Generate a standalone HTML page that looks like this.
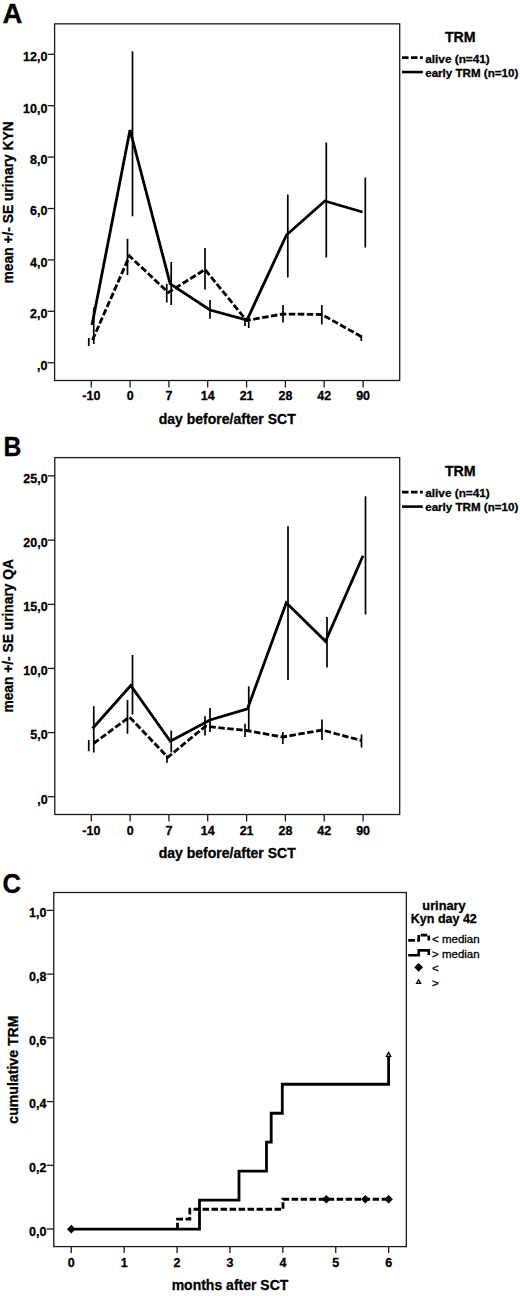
<!DOCTYPE html>
<html><head><meta charset="utf-8"><title>Figure</title>
<style>
html,body{margin:0;padding:0;background:#fff;}
body{width:520px;height:1296px;overflow:hidden;font-family:"Liberation Sans",sans-serif;}
svg{display:block;}
svg text{font-family:"Liberation Sans",sans-serif;fill:#000;stroke:#000;stroke-width:0.3px;}
</style></head><body>
<svg width="520" height="1296" viewBox="0 0 520 1296">
<rect x="0" y="0" width="520" height="1296" fill="#fff"/>
<text transform="translate(2.5,23.2) scale(1.0,1)" font-size="27.5" font-weight="bold">A</text>
<rect x="54.6" y="23.85" width="345.09999999999997" height="356.65" fill="none" stroke="#1a1a1a" stroke-width="1.3"/>
<line x1="47.6" y1="54.3" x2="54.6" y2="54.3" stroke="#1a1a1a" stroke-width="1.3" />
<text transform="translate(47.4,61.099999999999994) scale(0.96,1)" font-size="13.0" font-weight="bold" text-anchor="end" >12,0</text>
<line x1="47.6" y1="105.7" x2="54.6" y2="105.7" stroke="#1a1a1a" stroke-width="1.3" />
<text transform="translate(47.4,112.5) scale(0.96,1)" font-size="13.0" font-weight="bold" text-anchor="end" >10,0</text>
<line x1="47.6" y1="157.1" x2="54.6" y2="157.1" stroke="#1a1a1a" stroke-width="1.3" />
<text transform="translate(47.4,163.9) scale(0.96,1)" font-size="13.0" font-weight="bold" text-anchor="end" >8,0</text>
<line x1="47.6" y1="208.5" x2="54.6" y2="208.5" stroke="#1a1a1a" stroke-width="1.3" />
<text transform="translate(47.4,215.3) scale(0.96,1)" font-size="13.0" font-weight="bold" text-anchor="end" >6,0</text>
<line x1="47.6" y1="259.9" x2="54.6" y2="259.9" stroke="#1a1a1a" stroke-width="1.3" />
<text transform="translate(47.4,266.7) scale(0.96,1)" font-size="13.0" font-weight="bold" text-anchor="end" >4,0</text>
<line x1="47.6" y1="311.3" x2="54.6" y2="311.3" stroke="#1a1a1a" stroke-width="1.3" />
<text transform="translate(47.4,318.1) scale(0.96,1)" font-size="13.0" font-weight="bold" text-anchor="end" >2,0</text>
<line x1="47.6" y1="362.7" x2="54.6" y2="362.7" stroke="#1a1a1a" stroke-width="1.3" />
<text transform="translate(47.4,369.5) scale(0.96,1)" font-size="13.0" font-weight="bold" text-anchor="end" >,0</text>
<line x1="91.3" y1="380.5" x2="91.3" y2="387.5" stroke="#1a1a1a" stroke-width="1.3" />
<text transform="translate(91.3,400.2) scale(0.96,1)" font-size="13.0" font-weight="bold" text-anchor="middle" >-10</text>
<line x1="130.1" y1="380.5" x2="130.1" y2="387.5" stroke="#1a1a1a" stroke-width="1.3" />
<text transform="translate(130.1,400.2) scale(0.96,1)" font-size="13.0" font-weight="bold" text-anchor="middle" >0</text>
<line x1="168.9" y1="380.5" x2="168.9" y2="387.5" stroke="#1a1a1a" stroke-width="1.3" />
<text transform="translate(168.9,400.2) scale(0.96,1)" font-size="13.0" font-weight="bold" text-anchor="middle" >7</text>
<line x1="207.7" y1="380.5" x2="207.7" y2="387.5" stroke="#1a1a1a" stroke-width="1.3" />
<text transform="translate(207.7,400.2) scale(0.96,1)" font-size="13.0" font-weight="bold" text-anchor="middle" >14</text>
<line x1="246.6" y1="380.5" x2="246.6" y2="387.5" stroke="#1a1a1a" stroke-width="1.3" />
<text transform="translate(246.6,400.2) scale(0.96,1)" font-size="13.0" font-weight="bold" text-anchor="middle" >21</text>
<line x1="285.4" y1="380.5" x2="285.4" y2="387.5" stroke="#1a1a1a" stroke-width="1.3" />
<text transform="translate(285.4,400.2) scale(0.96,1)" font-size="13.0" font-weight="bold" text-anchor="middle" >28</text>
<line x1="324.2" y1="380.5" x2="324.2" y2="387.5" stroke="#1a1a1a" stroke-width="1.3" />
<text transform="translate(324.2,400.2) scale(0.96,1)" font-size="13.0" font-weight="bold" text-anchor="middle" >42</text>
<line x1="363.1" y1="380.5" x2="363.1" y2="387.5" stroke="#1a1a1a" stroke-width="1.3" />
<text transform="translate(363.1,400.2) scale(0.96,1)" font-size="13.0" font-weight="bold" text-anchor="middle" >90</text>
<text transform="translate(227.2,423.8) scale(0.96,1)" font-size="14.6" font-weight="bold" text-anchor="middle" >day before/after SCT</text>
<text transform="translate(13.1,202.4) rotate(-90) scale(0.945,1)" font-size="14.6" font-weight="bold" text-anchor="middle" >mean +/- SE urinary KYN</text>
<line x1="88.75" y1="338" x2="88.75" y2="346" stroke="#000" stroke-width="1.7" />
<line x1="127.5" y1="238.8" x2="127.5" y2="275" stroke="#000" stroke-width="1.7" />
<line x1="166.75" y1="283.8" x2="166.75" y2="302.5" stroke="#000" stroke-width="1.7" />
<line x1="205" y1="248" x2="205" y2="289.5" stroke="#000" stroke-width="1.7" />
<line x1="245" y1="317.5" x2="245" y2="326" stroke="#000" stroke-width="1.7" />
<line x1="283" y1="305" x2="283" y2="322.5" stroke="#000" stroke-width="1.7" />
<line x1="321.8" y1="305" x2="321.8" y2="324.5" stroke="#000" stroke-width="1.7" />
<line x1="361.3" y1="335" x2="361.3" y2="341" stroke="#000" stroke-width="1.7" />
<line x1="93.75" y1="307.5" x2="93.75" y2="344" stroke="#000" stroke-width="1.7" />
<line x1="132.5" y1="51.3" x2="132.5" y2="216.3" stroke="#000" stroke-width="1.7" />
<line x1="171.2" y1="262" x2="171.2" y2="305" stroke="#000" stroke-width="1.7" />
<line x1="210" y1="300" x2="210" y2="318.8" stroke="#000" stroke-width="1.7" />
<line x1="248.75" y1="316" x2="248.75" y2="328" stroke="#000" stroke-width="1.7" />
<line x1="287.8" y1="194.5" x2="287.8" y2="277.5" stroke="#000" stroke-width="1.7" />
<line x1="326.3" y1="142.5" x2="326.3" y2="257.5" stroke="#000" stroke-width="1.7" />
<line x1="365.3" y1="177.5" x2="365.3" y2="247.5" stroke="#000" stroke-width="1.7" />
<polyline points="92.5,340 129.5,256 168.3,292.5 205,269.5 246.5,320.5 283,314 321.8,314.5 362,337" fill="none" stroke="#000" stroke-width="2.8" stroke-linejoin="miter" stroke-linecap="butt" stroke-dasharray="6.5 2.5"/>
<polyline points="92,325 130,130 170.2,283.8 210,310 247,320 286.5,235 324.8,201 362.5,212" fill="none" stroke="#000" stroke-width="2.8" stroke-linejoin="miter" stroke-linecap="butt"/>
<text transform="translate(460.3,42.05)" font-size="14.2" font-weight="bold" text-anchor="middle" >TRM</text>
<line x1="402" y1="57.550000000000004" x2="422.8" y2="57.550000000000004" stroke="#000" stroke-width="2.7" stroke-dasharray="6.5 2.5"/>
<line x1="402" y1="72.05000000000001" x2="422.8" y2="72.05000000000001" stroke="#000" stroke-width="2.6" />
<text transform="translate(425.2,62.75)" font-size="11.8" font-weight="bold" text-anchor="start" >alive (n=41)</text>
<text transform="translate(425.2,77.05000000000001)" font-size="11.6" font-weight="bold" text-anchor="start" >early TRM (n=10)</text>
<text transform="translate(3.6,455.9) scale(0.9,1)" font-size="27.5" font-weight="bold">B</text>
<rect x="54.8" y="457.6" width="344.9" height="356.9" fill="none" stroke="#1a1a1a" stroke-width="1.3"/>
<line x1="47.8" y1="475.9" x2="54.8" y2="475.9" stroke="#1a1a1a" stroke-width="1.3" />
<text transform="translate(47.599999999999994,482.7) scale(0.96,1)" font-size="13.0" font-weight="bold" text-anchor="end" >25,0</text>
<line x1="47.8" y1="540.1" x2="54.8" y2="540.1" stroke="#1a1a1a" stroke-width="1.3" />
<text transform="translate(47.599999999999994,546.9) scale(0.96,1)" font-size="13.0" font-weight="bold" text-anchor="end" >20,0</text>
<line x1="47.8" y1="604.3" x2="54.8" y2="604.3" stroke="#1a1a1a" stroke-width="1.3" />
<text transform="translate(47.599999999999994,611.0999999999999) scale(0.96,1)" font-size="13.0" font-weight="bold" text-anchor="end" >15,0</text>
<line x1="47.8" y1="668.4" x2="54.8" y2="668.4" stroke="#1a1a1a" stroke-width="1.3" />
<text transform="translate(47.599999999999994,675.1999999999999) scale(0.96,1)" font-size="13.0" font-weight="bold" text-anchor="end" >10,0</text>
<line x1="47.8" y1="732.6" x2="54.8" y2="732.6" stroke="#1a1a1a" stroke-width="1.3" />
<text transform="translate(47.599999999999994,739.4) scale(0.96,1)" font-size="13.0" font-weight="bold" text-anchor="end" >5,0</text>
<line x1="47.8" y1="796.7" x2="54.8" y2="796.7" stroke="#1a1a1a" stroke-width="1.3" />
<text transform="translate(47.599999999999994,803.5) scale(0.96,1)" font-size="13.0" font-weight="bold" text-anchor="end" >,0</text>
<line x1="91.3" y1="814.5" x2="91.3" y2="821.5" stroke="#1a1a1a" stroke-width="1.3" />
<text transform="translate(91.3,834.7) scale(0.96,1)" font-size="13.0" font-weight="bold" text-anchor="middle" >-10</text>
<line x1="130.1" y1="814.5" x2="130.1" y2="821.5" stroke="#1a1a1a" stroke-width="1.3" />
<text transform="translate(130.1,834.7) scale(0.96,1)" font-size="13.0" font-weight="bold" text-anchor="middle" >0</text>
<line x1="168.9" y1="814.5" x2="168.9" y2="821.5" stroke="#1a1a1a" stroke-width="1.3" />
<text transform="translate(168.9,834.7) scale(0.96,1)" font-size="13.0" font-weight="bold" text-anchor="middle" >7</text>
<line x1="207.7" y1="814.5" x2="207.7" y2="821.5" stroke="#1a1a1a" stroke-width="1.3" />
<text transform="translate(207.7,834.7) scale(0.96,1)" font-size="13.0" font-weight="bold" text-anchor="middle" >14</text>
<line x1="246.6" y1="814.5" x2="246.6" y2="821.5" stroke="#1a1a1a" stroke-width="1.3" />
<text transform="translate(246.6,834.7) scale(0.96,1)" font-size="13.0" font-weight="bold" text-anchor="middle" >21</text>
<line x1="285.4" y1="814.5" x2="285.4" y2="821.5" stroke="#1a1a1a" stroke-width="1.3" />
<text transform="translate(285.4,834.7) scale(0.96,1)" font-size="13.0" font-weight="bold" text-anchor="middle" >28</text>
<line x1="324.2" y1="814.5" x2="324.2" y2="821.5" stroke="#1a1a1a" stroke-width="1.3" />
<text transform="translate(324.2,834.7) scale(0.96,1)" font-size="13.0" font-weight="bold" text-anchor="middle" >42</text>
<line x1="363.1" y1="814.5" x2="363.1" y2="821.5" stroke="#1a1a1a" stroke-width="1.3" />
<text transform="translate(363.1,834.7) scale(0.96,1)" font-size="13.0" font-weight="bold" text-anchor="middle" >90</text>
<text transform="translate(227.2,857.8) scale(0.96,1)" font-size="14.6" font-weight="bold" text-anchor="middle" >day before/after SCT</text>
<text transform="translate(12.9,635.8) rotate(-90) scale(0.945,1)" font-size="14.6" font-weight="bold" text-anchor="middle" >mean +/- SE urinary QA</text>
<line x1="88.75" y1="740" x2="88.75" y2="751.2" stroke="#000" stroke-width="1.7" />
<line x1="127.5" y1="700" x2="127.5" y2="733.8" stroke="#000" stroke-width="1.7" />
<line x1="167" y1="755.3" x2="167" y2="762.8" stroke="#000" stroke-width="1.7" />
<line x1="205" y1="716.3" x2="205" y2="735.5" stroke="#000" stroke-width="1.7" />
<line x1="245" y1="723.8" x2="245" y2="737" stroke="#000" stroke-width="1.7" />
<line x1="282.8" y1="732" x2="282.8" y2="744" stroke="#000" stroke-width="1.7" />
<line x1="322" y1="719.5" x2="322" y2="740" stroke="#000" stroke-width="1.7" />
<line x1="361.5" y1="734.5" x2="361.5" y2="747.5" stroke="#000" stroke-width="1.7" />
<line x1="93.75" y1="706.2" x2="93.75" y2="752.5" stroke="#000" stroke-width="1.7" />
<line x1="132.5" y1="655" x2="132.5" y2="714.5" stroke="#000" stroke-width="1.7" />
<line x1="171.25" y1="730.5" x2="171.25" y2="752.5" stroke="#000" stroke-width="1.7" />
<line x1="210" y1="708" x2="210" y2="732" stroke="#000" stroke-width="1.7" />
<line x1="248.75" y1="686.3" x2="248.75" y2="731.3" stroke="#000" stroke-width="1.7" />
<line x1="288" y1="526.3" x2="288" y2="680" stroke="#000" stroke-width="1.7" />
<line x1="327" y1="617" x2="327" y2="667.5" stroke="#000" stroke-width="1.7" />
<line x1="365.5" y1="496.3" x2="365.5" y2="614.5" stroke="#000" stroke-width="1.7" />
<polyline points="93.5,743.5 129.5,717 167.8,757.3 205.3,726.3 246.3,730.5 282.8,737 322,730 361.3,740.5" fill="none" stroke="#000" stroke-width="2.8" stroke-linejoin="miter" stroke-linecap="butt" stroke-dasharray="6.5 2.5"/>
<polyline points="92.5,728.5 130.75,685.5 170.3,741.3 210,720 247.5,708.8 286.3,602.8 325.5,641.3 363,555.8" fill="none" stroke="#000" stroke-width="2.8" stroke-linejoin="miter" stroke-linecap="butt"/>
<text transform="translate(460.3,475.8)" font-size="14.2" font-weight="bold" text-anchor="middle" >TRM</text>
<line x1="402" y1="492.1" x2="422.8" y2="492.1" stroke="#000" stroke-width="2.7" stroke-dasharray="6.5 2.5"/>
<line x1="402" y1="506.6" x2="422.8" y2="506.6" stroke="#000" stroke-width="2.6" />
<text transform="translate(425.2,496.5)" font-size="11.8" font-weight="bold" text-anchor="start" >alive (n=41)</text>
<text transform="translate(425.2,510.8)" font-size="11.6" font-weight="bold" text-anchor="start" >early TRM (n=10)</text>
<text transform="translate(2.6,892.5) scale(0.93,1)" font-size="27.5" font-weight="bold">C</text>
<rect x="53.75" y="892.5" width="352.6" height="354.0999999999999" fill="none" stroke="#1a1a1a" stroke-width="1.3"/>
<line x1="46.75" y1="910.4" x2="53.75" y2="910.4" stroke="#1a1a1a" stroke-width="1.3" />
<text transform="translate(46.45,917.1999999999999) scale(0.96,1)" font-size="13.0" font-weight="bold" text-anchor="end" >1,0</text>
<line x1="46.75" y1="974.1" x2="53.75" y2="974.1" stroke="#1a1a1a" stroke-width="1.3" />
<text transform="translate(46.45,980.9) scale(0.96,1)" font-size="13.0" font-weight="bold" text-anchor="end" >0,8</text>
<line x1="46.75" y1="1037.8" x2="53.75" y2="1037.8" stroke="#1a1a1a" stroke-width="1.3" />
<text transform="translate(46.45,1044.6) scale(0.96,1)" font-size="13.0" font-weight="bold" text-anchor="end" >0,6</text>
<line x1="46.75" y1="1101.6" x2="53.75" y2="1101.6" stroke="#1a1a1a" stroke-width="1.3" />
<text transform="translate(46.45,1108.3999999999999) scale(0.96,1)" font-size="13.0" font-weight="bold" text-anchor="end" >0,4</text>
<line x1="46.75" y1="1165.3" x2="53.75" y2="1165.3" stroke="#1a1a1a" stroke-width="1.3" />
<text transform="translate(46.45,1172.1) scale(0.96,1)" font-size="13.0" font-weight="bold" text-anchor="end" >0,2</text>
<line x1="46.75" y1="1229.0" x2="53.75" y2="1229.0" stroke="#1a1a1a" stroke-width="1.3" />
<text transform="translate(46.45,1235.8) scale(0.96,1)" font-size="13.0" font-weight="bold" text-anchor="end" >0,0</text>
<line x1="71.25" y1="1246.6" x2="71.25" y2="1253.1" stroke="#1a1a1a" stroke-width="1.3" />
<text transform="translate(71.25,1266.8999999999999) scale(0.96,1)" font-size="13.0" font-weight="bold" text-anchor="middle" >0</text>
<line x1="124.15" y1="1246.6" x2="124.15" y2="1253.1" stroke="#1a1a1a" stroke-width="1.3" />
<text transform="translate(124.15,1266.8999999999999) scale(0.96,1)" font-size="13.0" font-weight="bold" text-anchor="middle" >1</text>
<line x1="177.05" y1="1246.6" x2="177.05" y2="1253.1" stroke="#1a1a1a" stroke-width="1.3" />
<text transform="translate(177.05,1266.8999999999999) scale(0.96,1)" font-size="13.0" font-weight="bold" text-anchor="middle" >2</text>
<line x1="229.95" y1="1246.6" x2="229.95" y2="1253.1" stroke="#1a1a1a" stroke-width="1.3" />
<text transform="translate(229.95,1266.8999999999999) scale(0.96,1)" font-size="13.0" font-weight="bold" text-anchor="middle" >3</text>
<line x1="282.85" y1="1246.6" x2="282.85" y2="1253.1" stroke="#1a1a1a" stroke-width="1.3" />
<text transform="translate(282.85,1266.8999999999999) scale(0.96,1)" font-size="13.0" font-weight="bold" text-anchor="middle" >4</text>
<line x1="335.75" y1="1246.6" x2="335.75" y2="1253.1" stroke="#1a1a1a" stroke-width="1.3" />
<text transform="translate(335.75,1266.8999999999999) scale(0.96,1)" font-size="13.0" font-weight="bold" text-anchor="middle" >5</text>
<line x1="388.65" y1="1246.6" x2="388.65" y2="1253.1" stroke="#1a1a1a" stroke-width="1.3" />
<text transform="translate(388.65,1266.8999999999999) scale(0.96,1)" font-size="13.0" font-weight="bold" text-anchor="middle" >6</text>
<text transform="translate(230,1290) scale(0.96,1)" font-size="14.6" font-weight="bold" text-anchor="middle" >months after SCT</text>
<text transform="translate(18.1,1069.6) rotate(-90) scale(0.967,1)" font-size="14.6" font-weight="bold" text-anchor="middle" >cumulative TRM</text>
<polyline points="177.5,1229.15 177.5,1219.1890625 189.8,1219.1890625 189.8,1209.228125 283,1209.228125 283,1199.2671875 388.6,1199.2671875" fill="none" stroke="#000" stroke-width="2.8" stroke-linejoin="miter" stroke-linecap="butt" stroke-dasharray="6.5 2.5"/>
<polyline points="71.25,1229.15 199.5,1229.15 199.5,1200.1727272727273 239,1200.1727272727273 239,1171.1954545454546 266.5,1171.1954545454546 266.5,1142.2181818181818 271.2,1142.2181818181818 271.2,1113.240909090909 282.3,1113.240909090909 282.3,1084.2636363636366 388.6,1084.2636363636366 388.6,1056.7863636363638" fill="none" stroke="#000" stroke-width="2.8" stroke-linejoin="miter" stroke-linecap="butt"/>
<polygon points="66.95,1229.15 71.25,1224.8500000000001 75.55,1229.15 71.25,1233.45" fill="#000"/>
<polygon points="322.0,1199.2671875 326.3,1194.9671875000001 330.6,1199.2671875 326.3,1203.5671875" fill="#000"/>
<polygon points="361.0,1199.2671875 365.3,1194.9671875000001 369.6,1199.2671875 365.3,1203.5671875" fill="#000"/>
<polygon points="384.3,1199.2671875 388.6,1194.9671875000001 392.90000000000003,1199.2671875 388.6,1203.5671875" fill="#000"/>
<polygon points="386.45000000000005,1056.3363636363638 388.6,1052.4363636363637 390.75,1056.3363636363638" fill="#fff" stroke="#000" stroke-width="1.3"/>
<text transform="translate(444,909.5)" font-size="12.8" font-weight="bold" text-anchor="middle" >urinary</text>
<text transform="translate(443.8,922.6)" font-size="12.5" font-weight="bold" text-anchor="middle" >Kyn day 42</text>
<text transform="translate(432,943.3)" font-size="11.5" font-weight="normal" text-anchor="start"  stroke="none">&lt; median</text>
<text transform="translate(432,957.8)" font-size="11.5" font-weight="normal" text-anchor="start"  stroke="none">&gt; median</text>
<text transform="translate(432,972.4)" font-size="11.5" font-weight="normal" text-anchor="start"  stroke="none">&lt;</text>
<text transform="translate(432,987)" font-size="11.5" font-weight="normal" text-anchor="start"  stroke="none">&gt;</text>
<path d="M408.2 940.4H414.9M417.1 940.4H418.75V935.1M420.7 935.1H427.2M428.8 935.6V940.6" fill="none" stroke="#000" stroke-width="2.6"/>
<path d="M408.2 955.2H418.75V950.4H428.8V955" fill="none" stroke="#000" stroke-width="2.6"/>
<polygon points="414.20000000000005,967.3 418.6,962.9 423.0,967.3 418.6,971.6999999999999" fill="#000"/>
<polygon points="416.5,983.45 418.6,979.75 420.70000000000005,983.45" fill="#fff" stroke="#000" stroke-width="1.3"/>
</svg>
</body></html>
